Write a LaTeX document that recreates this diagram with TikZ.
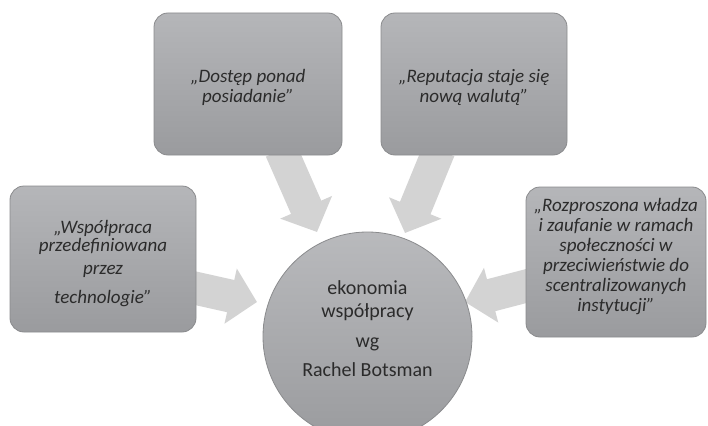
\documentclass[tikz,border=0pt]{standalone}
\usepackage{fontspec}
\setmainfont{Carlito}
\usetikzlibrary{arrows.meta}
\definecolor{txt}{HTML}{2B2B2B}
\definecolor{edge}{HTML}{8A8B8D}
\definecolor{boxtop}{HTML}{B5B6B9}
\definecolor{boxbot}{HTML}{9A9B9E}
\definecolor{arrowfill}{HTML}{D3D3D3}
\tikzset{
  x=1pt, y=-1pt,
  idea/.style={draw=edge, line width=0.8pt, rounded corners=14pt,
    top color=boxtop, bottom color=boxbot, inner sep=0pt},
  ideatext/.style={text=txt, align=center, inner sep=0pt,
    font=\fontsize{19}{20}\selectfont\itshape},
  hub/.style={circle, draw=edge, line width=0.8pt, top color=boxtop!95!white,
    bottom color=boxbot, inner sep=0pt, minimum size=209pt},
  hubtext/.style={text=txt, align=center, inner sep=0pt,
    font=\fontsize{20}{22}\selectfont},
  bigarrow/.style={draw=arrowfill, line width=33pt,
    -{Triangle[width=55pt,length=27pt,fill=arrowfill]}},
}
\begin{document}
\begin{tikzpicture}
\useasboundingbox (0,0) rectangle (708,425);
\clip (0,0) rectangle (708,425);

% anchor points for the block arrows
\coordinate (a1s) at (281,150);
\coordinate (a1t) at (317,232);
\coordinate (a2s) at (439,150);
\coordinate (a2t) at (405,233);
\coordinate (a3s) at (190,287);
\coordinate (a3t) at (257,302);
\coordinate (a4s) at (534,284);
\coordinate (a4t) at (465,302);

\draw[bigarrow] (a1s) -- (a1t);
\draw[bigarrow] (a2s) -- (a2t);
\draw[bigarrow] (a3s) -- (a3t);
\draw[bigarrow] (a4s) -- (a4t);

% the four statement boxes
\node[idea, minimum width=188pt, minimum height=142pt] (access) at (248,84) {};
\node[idea, minimum width=186pt, minimum height=142pt] (reput) at (474,84) {};
\node[idea, minimum width=186pt, minimum height=146pt] (tech) at (103,259) {};
\node[idea, minimum width=180pt, minimum height=150pt] (trust) at (616,262) {};

% statement texts
\node[ideatext] (access-t) at ([yshift=-3pt]access.center)
  {„Dostęp ponad\\ posiadanie”};
\node[ideatext] (reput-t) at ([yshift=-3pt]reput.center)
  {„Reputacja staje się\\ nową walutą”};
\node[ideatext] (tech-t) at ([yshift=-5pt]tech.center)
  {„Współpraca\\[-2pt] przedefiniowana\\[3pt] przez\\[9pt] technologie”};
\node[ideatext] (trust-t) at ([yshift=5pt]trust.center)
  {„Rozproszona władza\\ i zaufanie w ramach\\ społeczności w\\ przeciwieństwie do\\ scentralizowanych\\ instytucji”};

% central topic
\node[hub] (core) at (367.5,336.5) {};
\node[hubtext] (core-t) at ([yshift=8pt]core.center)
  {ekonomia\\[1pt] współpracy\\[8pt] wg\\[7pt] Rachel Botsman};
\end{tikzpicture}
\end{document}
